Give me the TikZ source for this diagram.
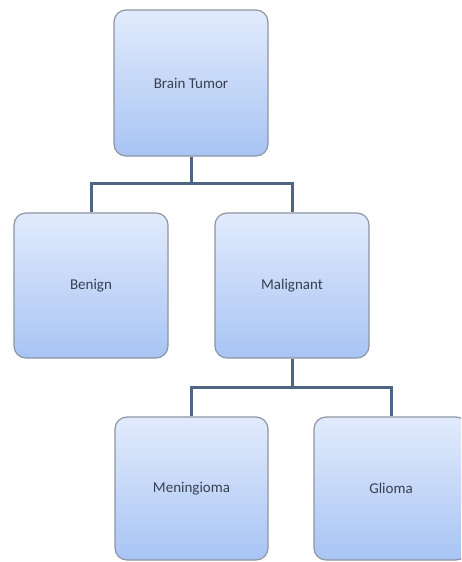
\documentclass[tikz,border=0pt]{standalone}
\usepackage{fontspec}
\setmainfont{Carlito}
\definecolor{boxtop}{HTML}{E2EBFC}
\definecolor{boxbot}{HTML}{A8C4F4}
\definecolor{boxline}{HTML}{8E95A2}
\definecolor{conn}{HTML}{4E6684}
\definecolor{txt}{HTML}{364050}
\begin{document}
\begin{tikzpicture}[x=1pt,y=-1pt,
  tbox/.style={draw=boxline,line width=1.2pt,rounded corners=12pt,
    top color=boxtop,bottom color=boxbot,text=txt,
    font=\fontsize{15}{17}\selectfont,inner sep=0pt},
  conline/.style={draw=conn,line width=3pt}]
\useasboundingbox (0,0) rectangle (461,562);
\begin{scope}
\clip (0,0) rectangle (461,562);
\node[tbox,minimum width=154pt,minimum height=146pt] (bt) at (191,83) {Brain Tumor};
\node[tbox,minimum width=154pt,minimum height=145pt] (be) at (91,285.5) {Benign};
\node[tbox,minimum width=154pt,minimum height=145pt] (ma) at (292,285.5) {Malignant};
\node[tbox,minimum width=153pt,minimum height=143pt] (me) at (191.5,488.5) {Meningioma};
\node[tbox,minimum width=154pt,minimum height=143pt] (gl) at (391,488.5) {Glioma};
\end{scope}
\coordinate (j1) at (191,183);
\coordinate (j2) at (292,387);
\draw[conline] (bt.south) -- (j1);
\draw[conline] (be.north) |- (j1) -| (ma.north);
\draw[conline] (ma.south) -- (j2);
\draw[conline] (me.north) |- (j2) -| (gl.north);
\end{tikzpicture}
\end{document}
